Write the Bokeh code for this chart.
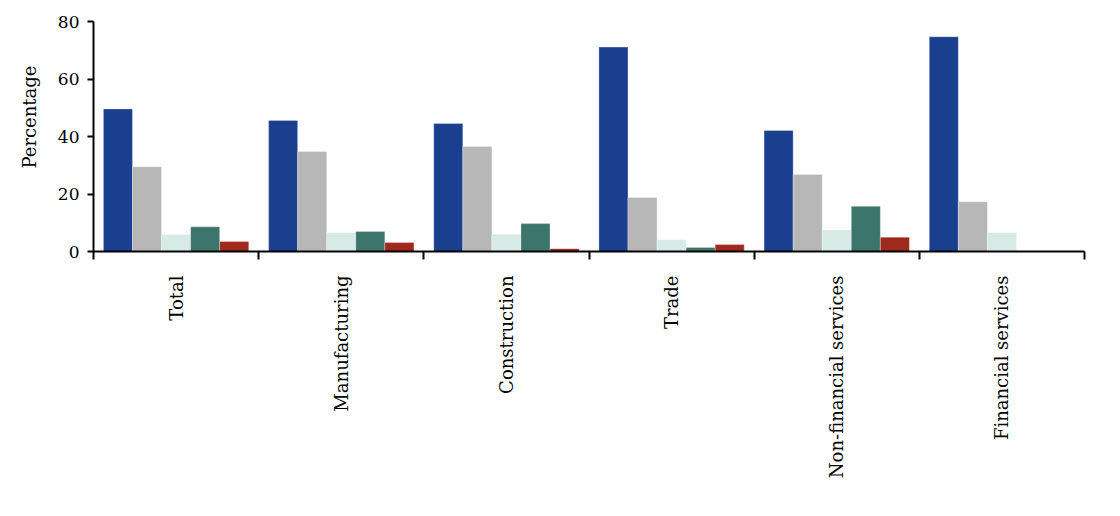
import numpy as np
from bokeh.plotting import figure
from bokeh.models import (Range1d, FixedTicker, Legend, LegendItem, Title, ColumnDataSource)
from bokeh.embed import file_html
from bokeh.resources import INLINE

categories = ["Total", "Manufacturing", "Construction", "Trade",
              "Non-financial services", "Financial services"]
series_names = ["No link", "No regular pattern", "Decisions taken simultaneously",
                "Prices set after wages", "Wages set after prices"]
no_link = [49.6, 45.6, 44.5, 71.1, 42.1, 74.7]
no_regular = [29.5, 34.8, 36.5, 18.8, 26.8, 17.3]
simultaneous = [5.9, 6.6, 6.0, 4.1, 7.5, 6.6]
prices_after = [8.6, 7.0, 9.7, 1.4, 15.7, 0.0]
wages_after = [3.5, 3.1, 1.0, 2.4, 5.0, 0.0]
y_ticks = [0, 20, 40, 60, 80]

colors = ["#1b3f8f", "#b7b7b7", "#d6ebe6", "#3b756b", "#a0291e"]
series = [no_link, no_regular, simultaneous, prices_after, wages_after]

FONT = "DejaVu Serif"

p = figure(frame_width=991, frame_height=230, output_backend="svg", toolbar_location=None,
           x_range=Range1d(0, 6), y_range=Range1d(0, 80),
           min_border_left=93, min_border_right=20, min_border_top=21,
           min_border_bottom=0)
p.outline_line_color = None
p.xgrid.visible = False
p.ygrid.visible = False

bw = 0.176
centers = np.arange(len(categories)) + 0.5
items = []
for k, (name, vals, col) in enumerate(zip(series_names, series, colors)):
    src = ColumnDataSource(dict(x=centers + (k - 2) * bw, top=vals))
    r = p.vbar(x="x", top="top", width=bw, bottom=0, source=src,
               fill_color=col, line_color="white", line_width=0.5, line_alpha=0.6)
    items.append(LegendItem(label=name, renderers=[r]))

# x axis
xa = p.xaxis[0]
xa.ticker = FixedTicker(ticks=list(centers), minor_ticks=list(range(len(categories) + 1)))
xa.major_label_overrides = {float(c): n for c, n in zip(centers, categories)}
xa.major_label_orientation = np.pi / 2
xa.major_tick_line_color = None
xa.major_tick_out = 0
xa.major_tick_in = 0
xa.minor_tick_out = 8
xa.minor_tick_in = 0
xa.minor_tick_line_color = "black"
xa.minor_tick_line_width = 2
xa.axis_line_width = 2
xa.axis_line_color = "black"
xa.major_label_text_font = FONT
xa.major_label_text_font_size = "18px"
xa.major_label_text_color = "black"
xa.major_label_standoff = 16

ya = p.yaxis[0]
ya.ticker = FixedTicker(ticks=y_ticks)
ya.minor_tick_line_color = None
ya.major_tick_out = 6
ya.major_tick_in = 0
ya.major_tick_line_width = 2
ya.major_tick_line_color = "black"
ya.axis_line_width = 2
ya.axis_line_color = "black"
ya.major_label_text_font = FONT
ya.major_label_text_font_size = "17px"
ya.major_label_text_color = "black"
ya.major_label_standoff = 8

ttl = Title(text="Percentage", align="right", offset=44,
            text_font=FONT, text_font_size="18px", text_color="black",
            text_font_style="normal", standoff=30)
p.add_layout(ttl, "left")

legend = Legend(items=items, orientation="horizontal", location=(-73, 0),
                border_line_color=None, background_fill_alpha=0,
                label_text_font=FONT, label_text_font_size="18px",
                label_text_color="black", glyph_width=12, glyph_height=12,
                label_standoff=6, spacing=16, padding=0, margin=5,
                label_height=18)
p.add_layout(legend, "below")

open("out.html", "w").write(file_html(p, INLINE))
